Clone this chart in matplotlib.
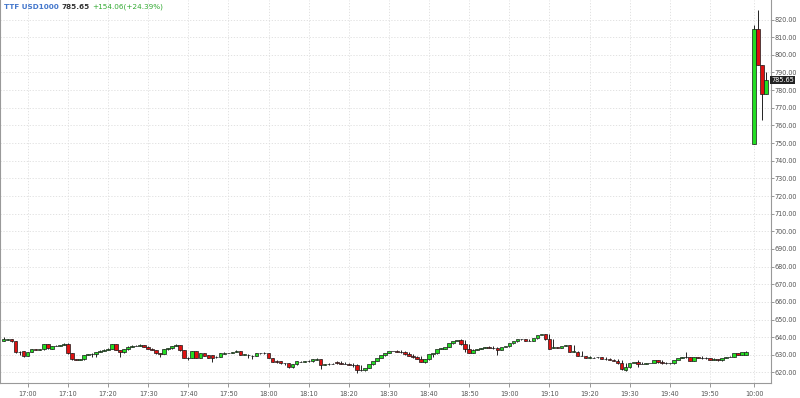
import matplotlib
matplotlib.use("Agg")
import matplotlib.pyplot as plt
import numpy as np
import pandas as pd

# ---------------- data ----------------
symbol = "TTF USD1000"
last_price = 785.65
change_text = "+154.06(+24.39%)"

day1_start = "2024-01-01 16:54"
day1_end = "2024-01-01 19:59"
day2_start = "2024-01-02 10:00"
day2_end = "2024-01-02 10:03"

day1_open = [637.8, 638.4, 638.7, 637.6, 631.4, 632.1, 629.3, 631.6, 633.1, 632.9,
             633.1, 635.9, 633.5, 635.0, 635.2, 635.5, 636.3, 630.8, 627.4, 627.2,
             627.4, 629.9, 630.2, 630.6, 631.6, 632.3, 632.9, 633.5, 636.1, 632.7,
             631.4, 633.1, 634.6, 635.0, 635.0, 635.3, 634.6, 633.5, 632.7, 630.8,
             630.6, 633.1, 633.6, 635.0, 635.3, 632.5, 628.4, 628.2, 631.9, 628.4,
             630.8, 629.7, 629.7, 628.5, 628.9, 630.4, 631.0, 631.0, 631.6, 631.9,
             630.1, 630.1, 629.5, 629.3, 630.8, 630.8, 631.0, 628.2, 626.7, 626.3,
             625.1, 625.1, 622.9, 624.6, 626.1, 626.1, 626.3, 626.3, 627.0, 627.6,
             624.4, 624.6, 624.8, 626.1, 625.5, 624.9, 624.9, 624.4, 624.0, 621.4,
             621.2, 622.7, 624.6, 626.7, 628.2, 629.7, 631.2, 632.1, 632.3, 631.8,
             631.4, 630.2, 629.3, 628.9, 627.6, 625.9, 627.4, 630.2, 630.8, 633.5,
             633.5, 634.6, 636.5, 637.8, 638.4, 635.9, 633.3, 631.2, 632.9, 633.3,
             634.0, 634.6, 634.0, 633.8, 632.7, 634.4, 634.8, 636.5, 637.6, 638.7,
             638.9, 638.0, 638.0, 639.3, 641.2, 641.6, 638.7, 633.8, 634.2, 634.0,
             635.0, 635.5, 631.8, 631.8, 629.3, 629.3, 628.4, 628.4, 628.5, 628.5,
             627.8, 627.4, 627.2, 626.7, 625.1, 621.4, 622.9, 625.1, 625.7, 624.9,
             624.9, 625.1, 625.3, 626.8, 625.7, 625.1, 625.1, 625.1, 627.0, 628.4,
             628.5, 628.5, 626.7, 628.9, 628.4, 628.0, 628.0, 627.2, 627.4, 626.8,
             628.4, 628.9, 628.9, 630.8, 630.1, 630.1]
day1_close = [638.7, 638.7, 637.6, 631.4, 631.8, 629.3, 631.6, 633.1, 632.9, 633.1,
              635.9, 633.6, 635.0, 635.2, 635.5, 636.3, 630.8, 627.4, 627.2, 627.4,
              629.9, 630.2, 630.6, 631.6, 632.3, 632.9, 633.5, 636.1, 632.7, 631.4,
              633.1, 634.6, 635.0, 635.0, 635.3, 634.6, 633.5, 632.7, 630.8, 630.6,
              633.1, 633.6, 635.0, 635.3, 632.5, 628.4, 628.2, 631.9, 628.4, 630.8,
              629.5, 628.4, 628.2, 628.9, 630.8, 631.2, 631.0, 631.6, 631.9, 630.1,
              630.2, 629.7, 629.3, 630.8, 630.8, 631.0, 628.2, 626.1, 625.7, 625.1,
              625.1, 622.9, 624.6, 626.3, 626.1, 626.3, 626.5, 627.4, 627.6, 624.4,
              624.6, 624.8, 624.9, 625.5, 624.9, 624.9, 624.4, 624.2, 621.4, 621.2,
              622.7, 624.6, 626.7, 628.2, 629.7, 631.2, 632.1, 632.3, 631.8, 631.4,
              630.2, 629.3, 628.9, 627.6, 625.9, 627.4, 630.2, 630.8, 633.5, 633.8,
              634.6, 636.5, 637.8, 638.4, 635.9, 633.3, 631.2, 632.9, 633.5, 634.0,
              634.6, 634.0, 633.6, 632.7, 634.4, 634.8, 636.7, 637.8, 638.7, 638.9,
              638.0, 638.0, 639.3, 641.2, 641.6, 638.7, 633.5, 634.2, 634.0, 635.2,
              635.5, 631.8, 631.8, 629.3, 629.3, 628.4, 628.4, 628.2, 628.5, 627.8,
              627.4, 627.2, 626.7, 625.1, 621.7, 622.9, 625.1, 625.7, 624.8, 624.9,
              625.1, 625.3, 626.8, 625.7, 625.1, 625.1, 625.3, 627.0, 628.4, 628.5,
              628.5, 626.5, 628.7, 628.4, 628.0, 628.0, 627.0, 627.4, 626.8, 628.4,
              628.9, 628.9, 630.8, 630.1, 631.6, 631.59]
day1_high = [640.0, 639.1, 639.0, 637.9, 632.1, 632.3, 631.8, 633.3, 633.4, 633.4,
             636.2, 636.1, 635.2, 635.5, 635.8, 636.6, 636.5, 631.0, 627.6, 627.7,
             630.1, 630.5, 630.9, 631.8, 632.5, 633.1, 633.7, 636.4, 636.3, 632.9,
             633.3, 634.8, 635.3, 635.3, 636.3, 635.5, 634.8, 633.7, 632.9, 631.0,
             633.3, 633.9, 635.2, 636.3, 635.5, 632.7, 628.6, 632.1, 632.1, 631.0,
             631.0, 629.9, 629.9, 629.1, 631.0, 631.4, 631.3, 631.8, 632.7, 632.1,
             630.5, 630.3, 629.7, 631.0, 631.1, 631.6, 631.2, 628.4, 626.9, 626.5,
             625.4, 625.3, 624.8, 626.5, 626.4, 626.6, 626.8, 627.6, 628.0, 627.8,
             624.9, 625.1, 625.2, 626.3, 626.3, 625.7, 625.2, 625.1, 624.6, 624.2,
             621.6, 622.9, 624.8, 626.9, 628.4, 629.9, 631.4, 632.3, 632.5, 632.5,
             632.0, 631.6, 630.4, 629.5, 629.1, 627.8, 627.6, 630.4, 631.0, 633.7,
             634.1, 634.8, 636.7, 638.0, 638.7, 638.6, 636.1, 633.5, 633.1, 633.8,
             634.2, 634.9, 634.8, 634.2, 634.0, 634.6, 635.1, 636.9, 638.0, 638.9,
             639.2, 639.1, 638.3, 639.5, 641.4, 641.9, 641.8, 638.9, 634.5, 634.4,
             635.4, 635.8, 635.7, 632.1, 632.0, 629.6, 629.5, 628.7, 628.6, 628.8,
             628.7, 628.0, 627.6, 627.4, 626.9, 625.3, 623.1, 625.3, 627.0, 625.9,
             625.2, 625.4, 625.6, 627.0, 627.0, 625.9, 625.4, 625.6, 627.2, 628.6,
             631.4, 628.8, 628.7, 628.9, 629.1, 628.6, 628.3, 628.2, 627.7, 627.6,
             628.6, 629.2, 629.2, 631.0, 631.0, 631.9]
day1_low = [637.6, 638.2, 637.4, 631.2, 629.9, 629.0, 629.1, 631.4, 632.6, 632.7,
            632.9, 633.4, 633.2, 634.8, 635.0, 635.3, 630.6, 627.2, 626.8, 626.9,
            627.2, 629.7, 628.9, 628.9, 631.4, 632.1, 632.7, 633.3, 632.5, 628.9,
            631.2, 632.9, 634.4, 634.8, 634.8, 634.4, 633.3, 632.5, 630.6, 628.9,
            630.4, 632.9, 633.4, 634.8, 632.3, 628.2, 627.0, 628.0, 628.2, 628.2,
            629.3, 628.2, 626.1, 628.3, 628.7, 630.2, 630.8, 630.8, 631.4, 629.9,
            629.9, 628.0, 627.4, 629.1, 630.6, 630.6, 628.0, 625.9, 625.5, 624.9,
            624.4, 622.7, 622.7, 624.4, 625.9, 625.9, 626.1, 626.1, 626.8, 622.0,
            624.2, 624.4, 624.6, 624.6, 624.7, 624.7, 624.2, 623.3, 619.5, 621.0,
            621.0, 622.5, 624.4, 626.5, 628.0, 629.5, 631.0, 631.9, 631.6, 631.2,
            630.0, 629.1, 628.0, 627.4, 625.7, 625.5, 627.2, 628.9, 630.6, 633.3,
            633.3, 634.4, 636.3, 637.6, 635.7, 631.8, 631.0, 631.0, 632.7, 633.1,
            633.8, 633.8, 633.4, 629.9, 632.5, 634.2, 634.6, 636.3, 637.4, 638.5,
            637.8, 637.8, 637.8, 639.1, 641.0, 638.5, 633.3, 633.6, 633.8, 633.8,
            634.8, 631.6, 631.6, 629.1, 629.1, 628.2, 628.2, 628.0, 628.3, 627.6,
            627.2, 627.0, 626.5, 624.9, 621.5, 621.0, 622.7, 625.5, 623.3, 624.7,
            624.7, 625.1, 625.1, 625.5, 624.9, 624.9, 624.9, 624.9, 626.8, 628.2,
            628.3, 626.3, 626.5, 628.2, 627.8, 627.8, 626.8, 627.0, 626.6, 626.6,
            628.2, 628.7, 628.7, 629.9, 629.9, 629.9]

day2_open = [749.3, 814.6, 794.2, 777.8]
day2_close = [814.6, 794.2, 777.8, 785.65]
day2_high = [816.9, 825.4, 794.2, 790.4]
day2_low = [749.3, 794.2, 763.0, 777.8]

y_ticks = [620, 630, 640, 650, 660, 670, 680, 690, 700, 710, 720, 730, 740,
           750, 760, 770, 780, 790, 800, 810, 820]

# ---------------- build ----------------
t1 = pd.date_range(day1_start, day1_end, freq="min")
t2 = pd.date_range(day2_start, day2_end, freq="min")
n1 = min(len(t1), len(day1_open), len(day1_close), len(day1_high), len(day1_low))
t1 = t1[:n1]
opens = np.array(day1_open[:n1] + day2_open)
closes = np.array(day1_close[:n1] + day2_close)
highs = np.array(day1_high[:n1] + day2_high)
lows = np.array(day1_low[:n1] + day2_low)
times = list(t1) + list(t2)

# x position: slot index, with one empty slot between sessions
x1 = (t1 - pd.Timestamp("2024-01-01 17:00")).total_seconds() / 60.0
x2 = x1[-1] + 2 + (t2 - t2[0]).total_seconds() / 60.0
xs = np.concatenate([np.asarray(x1), np.asarray(x2)])

YMIN, YMAX = 614.05, 831.05

fig = plt.figure(figsize=(8.0, 3.98), dpi=100)
ax = fig.add_axes([0.0, 15 / 398, 771 / 800, 383 / 398])
ax.set_facecolor("white")

up = closes >= opens
green = "#22dd22"
red = "#dd1111"
edge = "#1a1a1a"

ax.vlines(xs, lows, highs, color="#222222", linewidth=0.7, zorder=2)
bottoms = np.minimum(opens, closes)
heights = np.maximum(np.abs(closes - opens), 0.12)
ax.bar(xs, heights, bottom=bottoms, width=0.88,
       color=np.where(up, green, red), edgecolor=edge, linewidth=0.5, zorder=3)

ax.set_xlim(-6.9, 185.2)
ax.set_ylim(YMIN, YMAX)

# x ticks every 10 minutes
tick_pos = [x for x, t in zip(xs, times) if t.minute % 10 == 0]
tick_lab = [t.strftime("%H:%M") for t in times if t.minute % 10 == 0]
ax.set_xticks(tick_pos)
ax.set_xticklabels(tick_lab)

ax.yaxis.tick_right()
ax.set_yticks(y_ticks)
ax.set_yticklabels([f"{v:.2f}" for v in y_ticks])

ax.tick_params(axis="both", colors="#888888", labelcolor="#555555",
               labelsize=4.7, length=2, width=0.6, pad=0.8)
ax.tick_params(axis="x", pad=3, length=3)

ax.grid(True, color="#dddddd", linestyle=(0, (1.5, 2.0)), linewidth=0.6, zorder=0)
ax.set_axisbelow(True)

for side in ["left", "right", "bottom"]:
    ax.spines[side].set_color("#999999")
    ax.spines[side].set_linewidth(0.8)
ax.spines["top"].set_visible(False)

# last price box
ax.text(1.0, (last_price - YMIN) / (YMAX - YMIN), f"{last_price:.2f}",
        transform=ax.transAxes, ha="left", va="center", fontsize=4.7,
        color="white", zorder=10, clip_on=False,
        bbox=dict(boxstyle="square,pad=0.15", facecolor="#222222", edgecolor="none"))

# header: chain texts one after another
renderer = fig.canvas.get_renderer()
x0 = 4 / 800
hy = 1 - 7 / 398
parts = [(symbol, "#4477cc", "bold"), (f"{last_price:.2f}", "#333333", "bold"),
         (change_text, "#33aa33", "normal")]
for s, col, fw in parts:
    t = fig.text(x0, hy, s, color=col, fontsize=5.2, va="center", ha="left",
                 fontweight=fw)
    bb = t.get_window_extent(renderer=renderer)
    x0 = (bb.x1 + 2.5) / fig.bbox.width

fig.savefig("out.png", dpi=100, facecolor="white")
